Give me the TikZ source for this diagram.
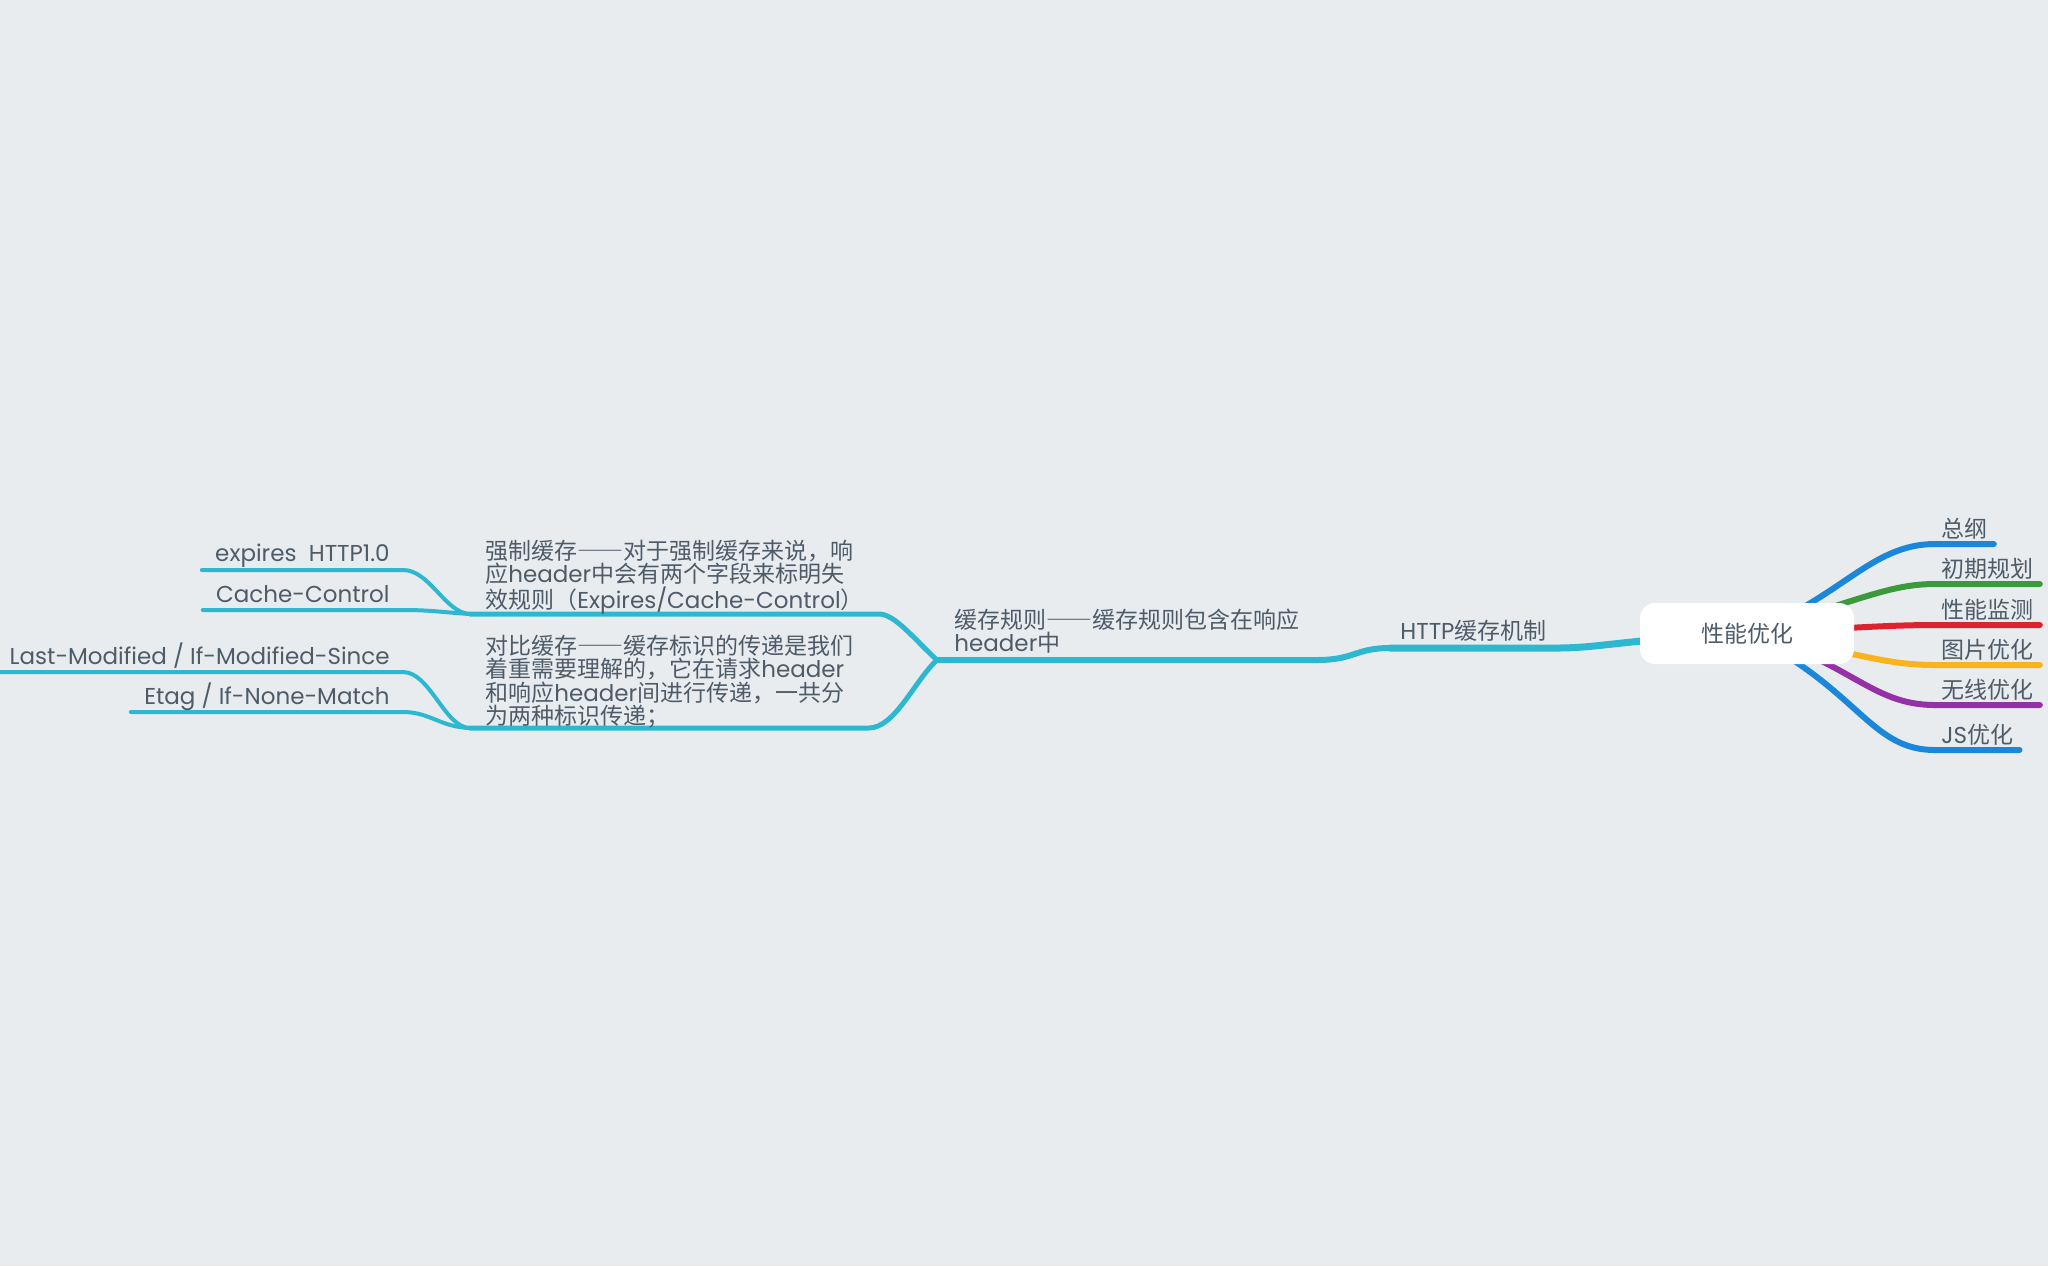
\documentclass[tikz,border=0pt]{standalone}
\usepackage{fontspec}
\setmainfont{Noto Sans CJK SC}
\newfontfamily\lat{Poppins}
\newcommand{\fdash}{{\addfontfeature{RawFeature=+fwid}——}}
\usepackage{xcolor}
\usetikzlibrary{backgrounds}
\definecolor{bgc}{HTML}{E8ECEF}
\definecolor{txtc}{HTML}{4E5B68}
\definecolor{cyanc}{HTML}{2CB8D0}
\definecolor{bluec}{HTML}{1B87DB}
\definecolor{greenc}{HTML}{3B9A3C}
\definecolor{redc}{HTML}{DE2330}
\definecolor{yellowc}{HTML}{FBB31B}
\definecolor{purplec}{HTML}{9530A6}

\begin{document}
\begin{tikzpicture}[x=0.5pt,y=-0.5pt,
  every node/.style={font=\fontsize{11.5pt}{11.75pt}\selectfont,text=txtc},
  topic/.style={inner xsep=3pt,inner ysep=0pt,text depth=3pt,anchor=south west},
  leaf/.style={font=\fontsize{11.5pt}{11.75pt}\selectfont\lat,inner xsep=6.5pt,inner ysep=0pt,text depth=3.5pt,anchor=south east},
  note/.style={inner ysep=0pt,align=left,anchor=south west},
  link/.style={draw=cyanc,line width=2pt,line cap=round},
  branch/.style={line width=3pt,line cap=round}]
\useasboundingbox (0,0) rectangle (2048,1266);

\node[fill=white,rounded corners=7.5pt,minimum width=107pt,minimum height=30.5pt] (root) at (1747,633.5) {性能优化};
\node[topic] (outline) at (1935,544) {总纲};
\node[topic] (plan) at (1935,584) {初期规划};
\node[topic] (monitor) at (1935,625) {性能监测};
\node[topic] (image) at (1935,665) {图片优化};
\node[topic] (wireless) at (1935,705) {无线优化};
\node[topic] (js) at (1935,750) {{\lat JS}优化};

\node[note,inner xsep=5pt,text depth=4pt] (http) at (1390,648) {{\lat HTTP}缓存机制};
\node[note,inner xsep=8.5pt,text depth=4pt] (rule) at (937,660) {缓存规则\fdash 缓存规则包含在响应\\{\lat header}中};
\node[note,inner xsep=7.5pt,text depth=2.6pt] (strong) at (470,614) {强制缓存\fdash 对于强制缓存来说，响\\应{\lat header}中会有两个字段来标明失\\效规则（{\lat Expires/Cache-Control}）};
\node[note,inner xsep=7.5pt,text depth=1.5pt] (compare) at (470,728) {对比缓存\fdash 缓存标识的传递是我们\\着重需要理解的，它在请求{\lat header}\\和响应{\lat header}间进行传递，一共分\\为两种标识传递；};

\node[leaf,text depth=4pt] (expires) at (403,570) {expires~~HTTP1.0};
\node[leaf] (cachectl) at (403,610) {Cache-Control};
\node[leaf] (lastmod) at (403,672) {Last-Modified~/~If-Modified-Since};
\node[leaf] (etag) at (403,712) {Etag~/~If-None-Match};

\begin{scope}[on background layer]
\fill[bgc] (0,0) rectangle (2048,1266);
\draw[branch,draw=bluec] (root.center) .. controls (1840,600) and (1870,544) .. (outline.south west) -- (outline.south east);
\draw[branch,draw=greenc] (root.center) .. controls (1860,600) and (1890,584) .. (plan.south west) -- (plan.south east);
\draw[branch,draw=redc] (root.center) .. controls (1850,628) and (1890,625) .. (monitor.south west) -- (monitor.south east);
\draw[branch,draw=yellowc] (root.center) .. controls (1850,650) and (1880,665) .. (image.south west) -- (image.south east);
\draw[branch,draw=purplec] (root.center) .. controls (1850,660) and (1870,705) .. (wireless.south west) -- (wireless.south east);
\draw[branch,draw=bluec] (root.center) .. controls (1860,690) and (1870,750) .. (js.south west) -- (js.south east);

\draw[link,line width=3.5pt] (root.center) .. controls (1620,640) and (1600,648) .. (http.south east) -- (http.south west);
\draw[link,line width=3pt] (http.south west) .. controls (1355,648) and (1355,660) .. (rule.south east) -- (rule.south west);
\draw[link,line width=2.5pt] (rule.south west) .. controls (915,640) and (895,614) .. (strong.south east) -- (strong.south west);
\draw[link,line width=2.5pt] (rule.south west) .. controls (915,680) and (895,728) .. (compare.south east) -- (compare.south west);
\draw[link] (strong.south west) .. controls (445,613) and (430,570) .. (expires.south east) -- (expires.south west);
\draw[link] (strong.south west) .. controls (440,612) and (430,610) .. (cachectl.south east) -- (cachectl.south west);
\draw[link] (compare.south west) .. controls (445,728) and (430,672) .. (lastmod.south east) -- (lastmod.south west);
\draw[link] (compare.south west) .. controls (440,727) and (430,712) .. (etag.south east) -- (etag.south west);
\end{scope}
\end{tikzpicture}
\end{document}
